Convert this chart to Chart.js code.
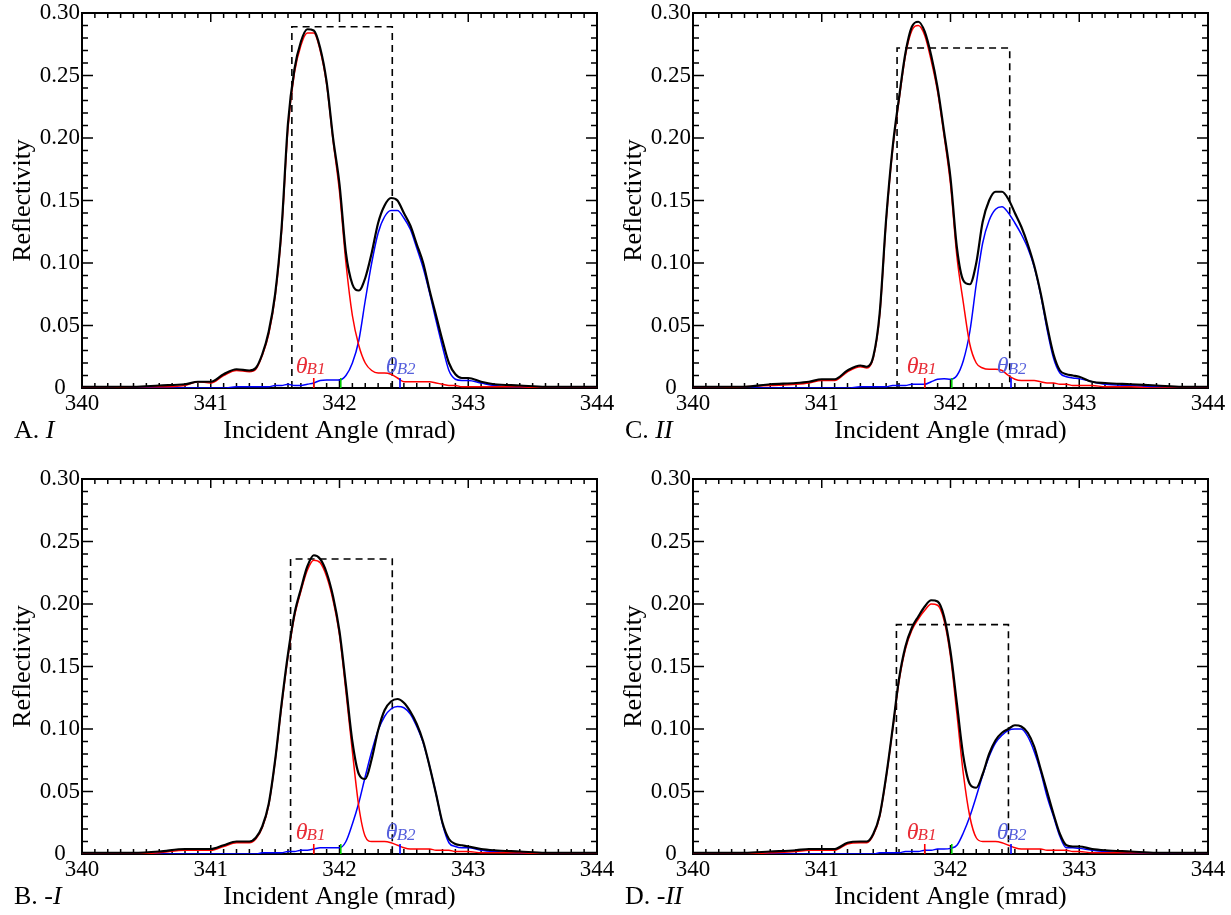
<!DOCTYPE html>
<html>
<head>
<meta charset="utf-8">
<script src="https://cdn.jsdelivr.net/npm/chart.js@4.4.1/dist/chart.umd.min.js"></script>
<style>
body { margin: 0; background: #fff; width: 1231px; height: 915px; position: relative; overflow: hidden; }
canvas { position: absolute; }
</style>
</head>
<body>
<canvas id="chartA" width="620" height="449" style="left:0px;top:0px"></canvas>
<canvas id="chartB" width="620" height="449" style="left:0px;top:466px"></canvas>
<canvas id="chartC" width="620" height="449" style="left:611px;top:0px"></canvas>
<canvas id="chartD" width="620" height="449" style="left:611px;top:466px"></canvas>
<script>
// incident angle (mrad), shared by all panels
const angles = [340.0, 340.2, 340.4, 340.6, 340.8, 340.9, 341.0, 341.1, 341.2, 341.3,
    341.35, 341.4, 341.45, 341.5, 341.55, 341.6, 341.65, 341.7, 341.75, 341.8,
    341.85, 341.9, 341.95, 342.0, 342.05, 342.1, 342.15, 342.2, 342.25, 342.3,
    342.35, 342.4, 342.45, 342.5, 342.55, 342.6, 342.65, 342.7, 342.75, 342.8,
    342.85, 342.9, 342.95, 343.0, 343.1, 343.2, 343.4, 343.6, 343.8, 344.0];

const xTicks = [340, 341, 342, 343, 344];
const yTicks = [0, 0.05, 0.10, 0.15, 0.20, 0.25, 0.30];

// A. I
const totalA = [0.001, 0.001, 0.001, 0.002, 0.003, 0.005, 0.005, 0.011, 0.015, 0.014,
    0.016, 0.027, 0.045, 0.075, 0.128, 0.212, 0.255, 0.277, 0.287, 0.286,
    0.272, 0.245, 0.200, 0.163, 0.108, 0.083, 0.078, 0.088, 0.108, 0.132,
    0.146, 0.152, 0.150, 0.140, 0.130, 0.115, 0.100, 0.078, 0.058, 0.038,
    0.020, 0.011, 0.008, 0.008, 0.005, 0.003, 0.002, 0.001, 0.001, 0.001];
const peak1A = [0.000, 0.000, 0.001, 0.001, 0.002, 0.005, 0.004, 0.010, 0.014, 0.013,
    0.015, 0.026, 0.043, 0.073, 0.125, 0.208, 0.252, 0.274, 0.284, 0.284,
    0.270, 0.243, 0.198, 0.157, 0.100, 0.058, 0.034, 0.020, 0.014, 0.012,
    0.012, 0.011, 0.008, 0.005, 0.005, 0.005, 0.005, 0.005, 0.004, 0.003,
    0.002, 0.002, 0.001, 0.001, 0.001, 0.001, 0.001, 0.000, 0.000, 0.000];
const peak2A = [0, 0, 0, 0, 0, 0, 0, 0, 0.001, 0.001,
    0.001, 0.001, 0.001, 0.002, 0.002, 0.003, 0.002, 0.002, 0.003, 0.004,
    0.006, 0.0065, 0.0065, 0.0065, 0.010, 0.020, 0.038, 0.070, 0.100, 0.124,
    0.137, 0.142, 0.142, 0.136, 0.127, 0.112, 0.096, 0.076, 0.054, 0.033,
    0.014, 0.007, 0.006, 0.006, 0.004, 0.002, 0.001, 0.001, 0, 0];

// B. -I
const totalB = [0.001, 0.001, 0.001, 0.002, 0.004, 0.004, 0.004, 0.007, 0.010, 0.010,
    0.013, 0.022, 0.040, 0.075, 0.120, 0.160, 0.192, 0.212, 0.230, 0.239,
    0.236, 0.225, 0.206, 0.178, 0.135, 0.090, 0.064, 0.060, 0.076, 0.099,
    0.115, 0.122, 0.124, 0.121, 0.114, 0.104, 0.090, 0.070, 0.048, 0.025,
    0.012, 0.008, 0.007, 0.006, 0.004, 0.003, 0.002, 0.001, 0.001, 0.001];
const peak1B = [0.000, 0.000, 0.000, 0.001, 0.003, 0.003, 0.003, 0.006, 0.009, 0.009,
    0.012, 0.021, 0.039, 0.074, 0.118, 0.158, 0.190, 0.210, 0.227, 0.235,
    0.233, 0.222, 0.203, 0.175, 0.130, 0.082, 0.038, 0.014, 0.010, 0.010,
    0.010, 0.009, 0.007, 0.005, 0.004, 0.004, 0.004, 0.004, 0.003, 0.003,
    0.003, 0.002, 0.002, 0.002, 0.001, 0.001, 0.001, 0.000, 0.000, 0.000];
const peak2B = [0, 0, 0, 0, 0, 0, 0, 0, 0, 0,
    0, 0.001, 0.001, 0.001, 0.001, 0.002, 0.002, 0.003, 0.003, 0.004,
    0.005, 0.005, 0.005, 0.005, 0.010, 0.024, 0.041, 0.062, 0.082, 0.099,
    0.110, 0.116, 0.118, 0.117, 0.112, 0.102, 0.089, 0.070, 0.048, 0.024,
    0.009, 0.006, 0.005, 0.005, 0.003, 0.002, 0.001, 0.001, 0, 0];

// C. II
const totalC = [0.001, 0.001, 0.001, 0.003, 0.004, 0.005, 0.007, 0.007, 0.014, 0.018,
    0.017, 0.025, 0.060, 0.135, 0.192, 0.232, 0.268, 0.289, 0.293, 0.285,
    0.266, 0.240, 0.205, 0.168, 0.112, 0.086, 0.083, 0.100, 0.133, 0.150,
    0.157, 0.157, 0.151, 0.140, 0.129, 0.115, 0.098, 0.076, 0.050, 0.027,
    0.014, 0.011, 0.010, 0.009, 0.005, 0.004, 0.003, 0.002, 0.001, 0.001];
const peak1C = [0.000, 0.000, 0.001, 0.002, 0.003, 0.004, 0.006, 0.006, 0.013, 0.017,
    0.016, 0.024, 0.058, 0.133, 0.190, 0.230, 0.266, 0.286, 0.290, 0.282,
    0.262, 0.237, 0.202, 0.163, 0.105, 0.068, 0.035, 0.020, 0.016, 0.015,
    0.015, 0.014, 0.010, 0.007, 0.006, 0.006, 0.006, 0.005, 0.004, 0.004,
    0.003, 0.003, 0.002, 0.002, 0.002, 0.001, 0.001, 0.000, 0.000, 0.000];
const peak2C = [0, 0, 0, 0, 0, 0, 0, 0, 0, 0.001,
    0.001, 0.001, 0.001, 0.001, 0.002, 0.002, 0.002, 0.003, 0.003, 0.003,
    0.005, 0.007, 0.0075, 0.007, 0.010, 0.022, 0.045, 0.083, 0.116, 0.134,
    0.143, 0.145, 0.140, 0.132, 0.123, 0.112, 0.097, 0.075, 0.047, 0.024,
    0.012, 0.009, 0.008, 0.0075, 0.005, 0.003, 0.002, 0.001, 0.001, 0];

// D. -II
const totalD = [0.001, 0.001, 0.001, 0.002, 0.003, 0.004, 0.004, 0.004, 0.009, 0.010,
    0.010, 0.016, 0.031, 0.062, 0.100, 0.140, 0.166, 0.181, 0.190, 0.198,
    0.203, 0.202, 0.190, 0.162, 0.120, 0.078, 0.056, 0.053, 0.064, 0.080,
    0.091, 0.097, 0.100, 0.103, 0.102, 0.097, 0.086, 0.068, 0.050, 0.032,
    0.016, 0.007, 0.006, 0.006, 0.004, 0.003, 0.002, 0.001, 0.001, 0.001];
const peak1D = [0.000, 0.000, 0.000, 0.001, 0.002, 0.003, 0.003, 0.003, 0.008, 0.009,
    0.009, 0.015, 0.030, 0.061, 0.099, 0.138, 0.164, 0.179, 0.188, 0.195,
    0.200, 0.199, 0.187, 0.158, 0.112, 0.064, 0.030, 0.013, 0.010, 0.010,
    0.010, 0.009, 0.007, 0.005, 0.004, 0.004, 0.004, 0.004, 0.003, 0.003,
    0.003, 0.003, 0.002, 0.002, 0.001, 0.001, 0.001, 0.001, 0.001, 0.001];
const peak2D = [0, 0, 0, 0, 0, 0, 0, 0, 0, 0,
    0, 0, 0.001, 0.001, 0.001, 0.001, 0.002, 0.002, 0.002, 0.003,
    0.003, 0.004, 0.004, 0.0045, 0.007, 0.017, 0.030, 0.046, 0.063, 0.078,
    0.089, 0.095, 0.099, 0.100, 0.100, 0.094, 0.082, 0.066, 0.046, 0.030,
    0.014, 0.005, 0.005, 0.0045, 0.003, 0.002, 0.001, 0.001, 0, 0];

// dashed window per panel (A, B, C, D): left, right, top
const boxLeft = [341.63, 341.62, 341.585, 341.58];
const boxRight = [342.41, 342.41, 342.46, 342.45];
const boxTop = [0.289, 0.236, 0.272, 0.1835];

// Bragg angle markers
const thetaB1 = 341.80;
const thetaMid = 342.01;
const thetaB2 = 342.47;
const markHeight = 0.008;

const serif = '"Liberation Serif", "Times New Roman", serif';

const deco = {
    id: 'deco',
    beforeDatasetsDraw(chart, args, o) {
        const { ctx, chartArea: a, scales: { x, y } } = chart;
        ctx.save();
        ctx.strokeStyle = '#000';
        // frame
        ctx.lineWidth = 2;
        ctx.strokeRect(a.left, a.top, a.right - a.left, a.bottom - a.top);
        // inward ticks
        ctx.lineWidth = 1.5;
        ctx.beginPath();
        for (let i = 0; i <= 40; i++) {
            const px = x.getPixelForValue(340 + i * 0.1);
            const len = i % 10 === 0 ? 9 : 5;
            ctx.moveTo(px, a.bottom); ctx.lineTo(px, a.bottom - len);
            ctx.moveTo(px, a.top); ctx.lineTo(px, a.top + len);
        }
        for (let i = 0; i <= 30; i++) {
            const py = y.getPixelForValue(i * 0.01);
            const len = i % 5 === 0 ? 11 : 6;
            ctx.moveTo(a.left, py); ctx.lineTo(a.left + len, py);
            ctx.moveTo(a.right, py); ctx.lineTo(a.right - len, py);
        }
        ctx.stroke();
        // dashed window
        const l = x.getPixelForValue(boxLeft[o.idx]);
        const r = x.getPixelForValue(boxRight[o.idx]);
        const t = y.getPixelForValue(boxTop[o.idx]);
        const b = y.getPixelForValue(0);
        ctx.setLineDash([7, 5]);
        ctx.lineWidth = 1.6;
        ctx.beginPath();
        ctx.moveTo(l, b); ctx.lineTo(l, t); ctx.lineTo(r, t); ctx.lineTo(r, b);
        ctx.stroke();
        ctx.restore();
    },
    afterDatasetsDraw(chart, args, o) {
        const { ctx, scales: { x, y } } = chart;
        ctx.save();
        const b = y.getPixelForValue(0);
        const top = y.getPixelForValue(markHeight);
        [[thetaB1, '#ff0000'], [thetaMid, '#00cc00'], [thetaB2, '#0000ff']].forEach(([v, c]) => {
            const px = x.getPixelForValue(v);
            ctx.strokeStyle = c;
            ctx.lineWidth = 1.6;
            ctx.beginPath(); ctx.moveTo(px, b); ctx.lineTo(px, top); ctx.stroke();
        });
        // theta labels
        const ly = y.getPixelForValue(0.012);
        const theta = (v, sub, c) => {
            const px = x.getPixelForValue(v);
            ctx.fillStyle = c;
            ctx.textBaseline = 'alphabetic';
            ctx.font = 'italic 24px ' + serif;
            ctx.fillText('θ', px, ly);
            const w = ctx.measureText('θ').width;
            ctx.font = 'italic 17px ' + serif;
            ctx.fillText(sub, px + w - 1, ly + 1);
        };
        theta(341.66, 'B1', 'rgb(232,45,55)');
        theta(342.36, 'B2', 'rgb(85,95,220)');
        // panel tag
        const ty = chart.height - 18;
        ctx.fillStyle = '#000';
        ctx.textBaseline = 'middle';
        ctx.font = '26px ' + serif;
        ctx.fillText(o.tag, 14, ty);
        const tw = ctx.measureText(o.tag).width;
        ctx.font = 'italic 26px ' + serif;
        ctx.fillText(o.ital, 14 + tw, ty);
        ctx.restore();
    }
};

function makePanel(id, idx, tag, ital, total, peak1, peak2) {
    const pts = arr => angles.map((a, i) => ({ x: a, y: arr[i] }));
    const line = (arr, color, w) => ({
        data: pts(arr),
        borderColor: color,
        borderWidth: w,
        pointRadius: 0,
        fill: false,
        cubicInterpolationMode: 'monotone'
    });
    return new Chart(document.getElementById(id), {
        type: 'line',
        data: {
            datasets: [
                line(total, '#000000', 2.2),
                line(peak1, '#ff0000', 1.5),
                line(peak2, '#0000ff', 1.5)
            ]
        },
        options: {
            responsive: false,
            animation: false,
            events: [],
            layout: { padding: { left: 0, right: 23, top: 13, bottom: 0 } },
            plugins: {
                legend: { display: false },
                tooltip: { enabled: false },
                deco: { idx: idx, tag: tag, ital: ital }
            },
            scales: {
                x: {
                    type: 'linear',
                    min: 340,
                    max: 344,
                    afterBuildTicks: s => { s.ticks = xTicks.map(v => ({ value: v })); },
                    afterFit: s => { s.height = 61; s.paddingLeft = 0; s.paddingRight = 0; },
                    ticks: { color: '#000', font: { family: serif, size: 23 }, padding: 2, maxRotation: 0 },
                    grid: { display: false, drawTicks: false },
                    border: { display: false },
                    title: { display: true, text: 'Incident Angle (mrad)', color: '#000', font: { family: serif, size: 26 }, padding: { top: 0, bottom: 2 } }
                },
                y: {
                    min: 0,
                    max: 0.3,
                    afterBuildTicks: s => { s.ticks = yTicks.map(v => ({ value: v })); },
                    afterFit: s => { s.width = 82; s.paddingTop = 0; s.paddingBottom = 0; },
                    ticks: {
                        color: '#000',
                        font: { family: serif, size: 23 },
                        padding: 2,
                        crossAlign: 'center',
                        callback: v => v < 1e-9 ? '0' : v.toFixed(2)
                    },
                    grid: { display: false, drawTicks: false },
                    border: { display: false },
                    title: { display: true, text: 'Reflectivity', color: '#000', font: { family: serif, size: 26 }, padding: { top: 8, bottom: 0 } }
                }
            }
        },
        plugins: [deco]
    });
}

makePanel('chartA', 0, 'A. ', 'I', totalA, peak1A, peak2A);
makePanel('chartB', 1, 'B. ', '-I', totalB, peak1B, peak2B);
makePanel('chartC', 2, 'C. ', 'II', totalC, peak1C, peak2C);
makePanel('chartD', 3, 'D. ', '-II', totalD, peak1D, peak2D);
</script>
</body>
</html>
